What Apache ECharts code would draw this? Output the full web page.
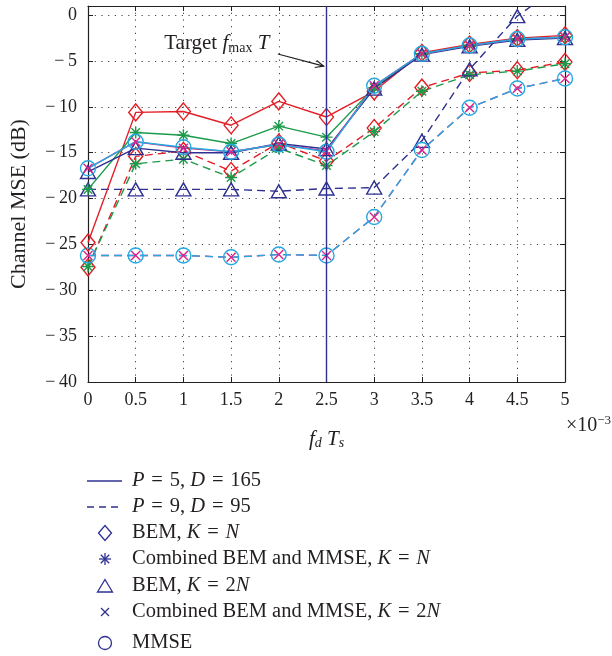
<!DOCTYPE html>
<html><head><meta charset="utf-8">
<script src="https://cdn.jsdelivr.net/npm/echarts@6/dist/echarts.min.js"></script>
<style>html,body{margin:0;padding:0;background:#fff}#c{width:612px;height:656px}</style>
</head><body><div id="c"></div>
<script>
// ---------------- data ----------------
const xValues = [0, 0.5, 1, 1.5, 2, 2.5, 3, 3.5, 4, 4.5, 5];
const yTickValues = [-40, -35, -30, -25, -20, -15, -10, -5, 0];
// P = 5, D = 165 (solid)
const bemKN_P5   = [-24.8, -10.6, -10.5, -12.0, -9.4, -11.1, -8.3, -4.1, -3.2, -2.5, -2.2];
const combKN_P5  = [-19.0, -12.8, -13.1, -14.0, -12.1, -13.3, -7.9, -4.2, -3.3, -2.6, -2.4];
const bemK2N_P5  = [-17.1, -14.5, -15.0, -15.0, -14.0, -14.6, -8.0, -4.3, -3.4, -2.7, -2.5];
const combK2N_P5 = [-16.7, -13.8, -14.5, -14.9, -14.1, -14.8, -7.7, -4.2, -3.3, -2.6, -2.4];
const mmse_P5    = [-16.7, -13.8, -14.4, -14.9, -14.1, -14.9, -7.7, -4.2, -3.3, -2.6, -2.4];
// P = 9, D = 95 (dashed)
const bemKN_P9   = [-27.5, -15.4, -14.8, -17.0, -13.9, -15.9, -12.3, -7.9, -6.3, -6.0, -5.1];
const combKN_P9  = [-27.4, -16.2, -15.7, -17.7, -14.5, -16.4, -12.7, -8.3, -6.5, -6.1, -5.3];
const bemK2N_P9  = [-19.0, -19.0, -19.0, -19.0, -19.2, -18.9, -18.8, -13.7, -5.9, -0.1, 3.6];
const combK2N_P9 = [-26.2, -26.2, -26.2, -26.4, -26.1, -26.2, -22.0, -14.7, -10.1, -8.0, -6.9];
const mmse_P9    = [-26.2, -26.2, -26.2, -26.4, -26.1, -26.2, -22.0, -14.7, -10.1, -8.0, -6.9];
const targetX = 2.5;

// ---------------- style ----------------
const FONT = 'Liberation Serif';
const INK = '#231f20';
const C = {red:'#e31e25', green:'#1b9b4a', blue:'#2e3191', mag:'#e0238a', cyan:'#26a8e0'};
const STAR = 'path://M6,0L6,12M0,6L12,6M1.76,1.76L10.24,10.24M1.76,10.24L10.24,1.76';
const XMARK = 'path://M0,0L9,9M0,9L9,0';
const GRID = {left:87, right:47, top:6, bottom:274};
const LW = 1.4;

function pairs(vals){ return xValues.map((x,i)=>[x, vals[i]]); }
function mk(name, vals, color, dashed, symbol, size, hollow){
  return {
    name, type:'line', data: pairs(vals), silent:true, clip:true,
    symbol, symbolSize:size, showSymbol:true,
    lineStyle:{color, width:LW, type: dashed ? [8,5] : 'solid'},
    itemStyle:{color: hollow ? 'none' : color, borderColor: color, borderWidth: LW},
    emphasis:{disabled:true}
  };
}
const series = [
  mk('bemKN_P9', bemKN_P9, C.red, true, 'diamond', [14,17], true),
  mk('combKN_P9', combKN_P9, C.green, true, STAR, 12, false),
  mk('bemK2N_P9', bemK2N_P9, C.blue, true, 'triangle', [15,13], true),
  mk('combK2N_P9', combK2N_P9, C.mag, true, XMARK, 9, false),
  mk('mmse_P9', mmse_P9, C.cyan, true, 'circle', 15, true),
  mk('bemKN_P5', bemKN_P5, C.red, false, 'diamond', [14,17], true),
  mk('combKN_P5', combKN_P5, C.green, false, STAR, 12, false),
  mk('bemK2N_P5', bemK2N_P5, C.blue, false, 'triangle', [15,13], true),
  mk('combK2N_P5', combK2N_P5, C.mag, false, XMARK, 9, false),
  mk('mmse_P5', mmse_P5, C.cyan, false, 'circle', 15, true),
  {type:'line', data:[], silent:true,
   markLine:{silent:true, symbol:'none', animation:false, label:{show:false},
     lineStyle:{color:C.blue, type:'solid', width:LW},
     emphasis:{disabled:true},
     data:[{xAxis: targetX}]}}
];

const yMin = -40, yMax = 1;
const axisCommon = {
  axisLine:{show:true, onZero:false, lineStyle:{color:INK, width:1.2}},
  axisTick:{show:true, inside:true, length:5, lineStyle:{color:INK, width:1}},
};
const dotted = {show:true, lineStyle:{color:'#444', type:[1.2,5.5], width:1}};

const option = {
  animation:false,
  backgroundColor:'#fff',
  grid: GRID,
  xAxis:[
    Object.assign({type:'value', position:'bottom', min:0, max:5, interval:0.5,
      axisLabel:{color:INK, fontFamily:FONT, fontSize:18, margin:9,
        formatter: v => String(v)},
      splitLine: dotted,
      name:'{i|f}{sub|d}{i| T}{sub|s}', nameLocation:'middle', nameGap:46,
      nameTextStyle:{color:INK, fontFamily:FONT, fontSize:20,
        rich:{i:{fontStyle:'italic', fontFamily:FONT, fontSize:21, color:INK, lineHeight:22},
              sub:{fontStyle:'italic', fontFamily:FONT, fontSize:14, color:INK, verticalAlign:'bottom', lineHeight:12}}}
    }, axisCommon),
    Object.assign({type:'value', position:'top', min:0, max:5, interval:0.5,
      axisLabel:{show:false}, splitLine:{show:false}}, axisCommon)
  ],
  yAxis:[
    Object.assign({type:'value', position:'left', min:yMin, max:yMax, interval:5,
      axisLabel:{color:INK, fontFamily:FONT, fontSize:18, margin:11, showMaxLabel:false,
        formatter: v => (v > 0 ? '' : (v < 0 ? '\u2212\u2009' + Math.abs(v) : '0'))},
      splitLine: dotted,
      name:'Channel MSE (dB)', nameLocation:'middle', nameGap:58, nameRotate:90,
      nameTextStyle:{color:INK, fontFamily:FONT, fontSize:22, padding:[0,20,0,0]}
    }, axisCommon),
    Object.assign({type:'value', position:'right', min:yMin, max:yMax, interval:5,
      axisLabel:{show:false}, splitLine:{show:false}}, axisCommon)
  ],
  series
};

const chart = echarts.init(document.getElementById('c'), null, {renderer:'canvas'});
chart.setOption(option);

// ---------------- annotations & legend (graphic) ----------------
const px = (x, y) => chart.convertToPixel({xAxisIndex:0, yAxisIndex:0}, [x, y]);
const g = [];
function richSet(fs){
  return {
    i:{fontStyle:'italic', fontFamily:FONT, fontSize:fs, fill:INK, lineHeight:fs+3},
    r:{fontFamily:FONT, fontSize:fs, fill:INK, lineHeight:fs+3},
    sub:{fontFamily:FONT, fontSize:Math.round(fs*0.66), fill:INK, verticalAlign:'bottom', lineHeight:12},
    sup:{fontFamily:FONT, fontSize:Math.round(fs*0.65), fill:INK, verticalAlign:'top', lineHeight:12}
  };
}
function txt(x, y, t, fs, align){
  return {type:'text', x, y, silent:true,
    style:{text:t, rich:richSet(fs), fontFamily:FONT, fontSize:fs, fill:INK, align:align||'left', verticalAlign:'middle'}};
}
// Target annotation
const tp = px(1.35, -3.1);
g.push(txt(tp[0], tp[1], '{r|Target }{i|f}{sub|max}{i| T}', 21, 'center'));
const a0 = px(1.99, -4.23), a1 = px(2.47, -5.55);
const ang = Math.atan2(a1[1]-a0[1], a1[0]-a0[0]);
const hl = 9, hw = 0.42;
g.push({type:'line', silent:true, shape:{x1:a0[0], y1:a0[1], x2:a1[0], y2:a1[1]}, style:{stroke:INK, lineWidth:1.2}});
g.push({type:'polyline', silent:true, shape:{points:[
  [a1[0]-hl*Math.cos(ang-hw), a1[1]-hl*Math.sin(ang-hw)], a1,
  [a1[0]-hl*Math.cos(ang+hw), a1[1]-hl*Math.sin(ang+hw)]]}, style:{stroke:INK, lineWidth:1.2, fill:'none'}});
// x10^-3
g.push(txt(566, 426, '{r|\u00d710}{sup|\u22123}', 20, 'left'));

// legend
const LX = 105, TX = 132, LF = 20.5;
const EQ = '\u2004=\u2004';
const rows = [
  {y:481, t:'{i|P}{r|' + EQ + '5, }{i|D}{r|' + EQ + '165}'},
  {y:507, t:'{i|P}{r|' + EQ + '9, }{i|D}{r|' + EQ + '95}'},
  {y:533, t:'{r|BEM, }{i|K}{r|' + EQ + '}{i|N}'},
  {y:559, t:'{r|Combined BEM and MMSE, }{i|K}{r|' + EQ + '}{i|N}'},
  {y:586, t:'{r|BEM, }{i|K}{r|' + EQ + '2}{i|N}'},
  {y:612, t:'{r|Combined BEM and MMSE, }{i|K}{r|' + EQ + '2}{i|N}'},
  {y:643, t:'{r|MMSE}'}
];
rows.forEach(r => g.push(txt(TX, r.y, r.t, LF, 'left')));
const LS = {stroke:C.blue, lineWidth:1.3, fill:'none'};
g.push({type:'line', silent:true, shape:{x1:87, y1:481, x2:122, y2:481}, style:LS});
g.push({type:'line', silent:true, shape:{x1:87, y1:507, x2:122, y2:507}, style:Object.assign({lineDash:[7,5]}, LS)});
g.push({type:'polygon', silent:true, shape:{points:[[LX,525.5],[LX+6.5,533],[LX,540.5],[LX-6.5,533]]}, style:LS});
[[0,-6,0,6],[-6,0,6,0],[-4.2,-4.2,4.2,4.2],[-4.2,4.2,4.2,-4.2]].forEach(s =>
  g.push({type:'line', silent:true, shape:{x1:LX+s[0], y1:559+s[1], x2:LX+s[2], y2:559+s[3]}, style:LS}));
g.push({type:'polygon', silent:true, shape:{points:[[LX,579.5],[LX+7.5,592],[LX-7.5,592]]}, style:LS});
[[-4,-4,4,4],[-4,4,4,-4]].forEach(s =>
  g.push({type:'line', silent:true, shape:{x1:LX+s[0], y1:612+s[1], x2:LX+s[2], y2:612+s[3]}, style:LS}));
g.push({type:'circle', silent:true, shape:{cx:LX, cy:643, r:6.5}, style:LS});

chart.setOption({graphic: g});
</script>
</body></html>
